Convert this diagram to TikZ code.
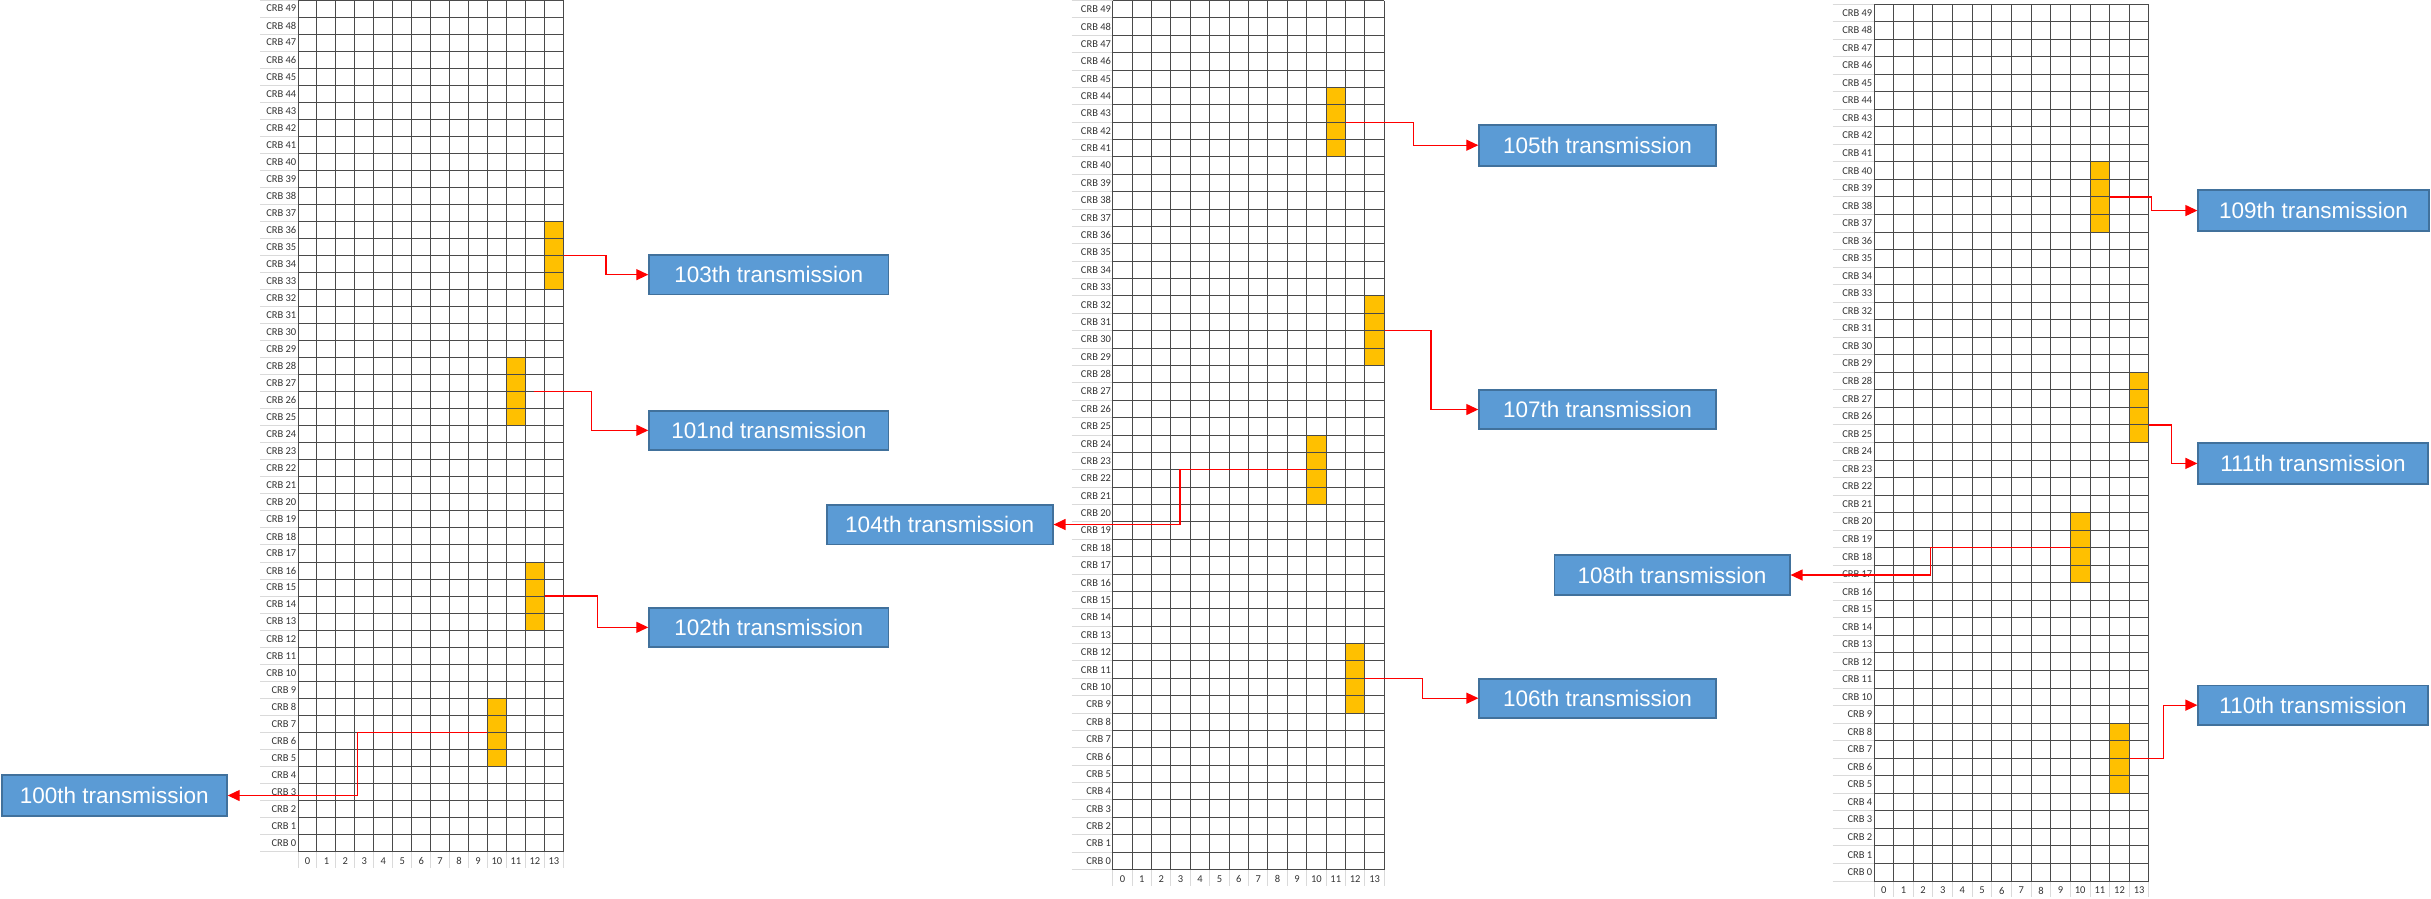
\documentclass[tikz,border=0pt]{standalone}
\usepackage{fontspec}
\setmainfont{Liberation Sans}
\newfontfamily\calfont{Carlito}
\usetikzlibrary{arrows.meta}
\definecolor{cellorange}{HTML}{FFC000}
\definecolor{boxfill}{HTML}{5B9BD5}
\definecolor{boxline}{HTML}{41719C}
\definecolor{gridcol}{HTML}{4A4A4A}
\definecolor{sepcol}{HTML}{DADADA}
\definecolor{conncol}{HTML}{FF0000}

% #1 left, #2 top, #3 col width, #4 row height, #5 label column left, #6 name prefix
\newcommand\mygrid[6]{%
  \pgfmathsetmacro\myGR{#1+14*#3}%
  \pgfmathsetmacro\myGB{#2+50*#4}%
  \foreach \r in {0,...,50} {\draw[sepline] (#5,#2+\r*#4) -- (#1,#2+\r*#4);}
  \foreach \c in {0,...,14} {\draw[sepline] (#1+\c*#3,\myGB) -- (#1+\c*#3,\myGB+16);}
  \foreach \r in {0,...,50} {\draw[gridline] (#1,#2+\r*#4) -- (\myGR,#2+\r*#4);}
  \foreach \c in {0,...,14} {\draw[gridline] (#1+\c*#3,#2) -- (#1+\c*#3,\myGB);}
  \foreach \r in {0,...,49} {\node[crblab] (#6r\r) at (#1-1.5,#2+49.5*#4-\r*#4) {CRB \r};}
  \foreach \c in {0,...,13} {\node[collab] (#6c\c) at (#1+\c*#3+0.5*#3,\myGB+9.5) {\c};}
}
% orange block of 4 rows: name, left, top, cw, rh, col, lowest row
\newcommand\ocell[7]{%
  \pgfmathsetmacro\myOx{#2+(#6+0.5)*#4}%
  \pgfmathsetmacro\myOy{#3+(48-#7)*#5}%
  \pgfmathsetmacro\myOh{4*#5}%
  \node[cellbox, minimum width=#4pt, minimum height=\myOh pt] (#1) at (\myOx,\myOy) {};
}
% text box: name, x1, x2, y1, y2, text
\newcommand\tbx[6]{%
  \pgfmathsetmacro\myBx{(#2+#3)/2}%
  \pgfmathsetmacro\myBy{(#4+#5)/2}%
  \pgfmathsetmacro\myBw{#3-#2-1.8}%
  \pgfmathsetmacro\myBh{#5-#4-1.8}%
  \node[tbox, minimum width=\myBw pt, minimum height=\myBh pt] (#1) at (\myBx,\myBy) {#6};
}

\begin{document}
\begin{tikzpicture}[x=1pt,y=-1pt,
  gridline/.style={draw=gridcol, line width=1pt},
  sepline/.style={draw=sepcol, line width=1pt},
  crblab/.style={font=\calfont\fontsize{10.5}{12}\selectfont, text=black!80, inner sep=0pt, anchor=east},
  collab/.style={font=\calfont\fontsize{10.5}{12}\selectfont, text=black!80, inner sep=0pt},
  cellbox/.style={fill=cellorange, draw=none, inner sep=0pt},
  tbox/.style={draw=boxline, line width=1.8pt, fill=boxfill, text=white, font=\fontsize{22.5}{27}\selectfont, inner sep=0pt},
  conn/.style={draw=conncol, line width=1.3pt, -{Triangle[length=12pt,width=11pt]}}
]
\useasboundingbox (0,0) rectangle (2431,898);

% orange blocks
\ocell{o100}{298}{0}{18.95}{17.03}{10}{5}
\ocell{o103}{298}{0}{18.95}{17.03}{13}{33}
\ocell{o101}{298}{0}{18.95}{17.03}{11}{25}
\ocell{o102}{298}{0}{18.95}{17.03}{12}{13}
\ocell{o105}{1112.7}{0.5}{19.4}{17.38}{11}{41}
\ocell{o107}{1112.7}{0.5}{19.4}{17.38}{13}{29}
\ocell{o104}{1112.7}{0.5}{19.4}{17.38}{10}{21}
\ocell{o106}{1112.7}{0.5}{19.4}{17.38}{12}{9}
\ocell{o109}{1874}{4}{19.64}{17.54}{11}{37}
\ocell{o111}{1874}{4}{19.64}{17.54}{13}{25}
\ocell{o108}{1874}{4}{19.64}{17.54}{10}{17}
\ocell{o110}{1874}{4}{19.64}{17.54}{12}{5}

% grids
\mygrid{298}{0}{18.95}{17.03}{260}{ga}
\mygrid{1112.7}{0.5}{19.4}{17.38}{1071.7}{gb}
\mygrid{1874}{4}{19.64}{17.54}{1832.7}{gc}

% boxes
\tbx{b100}{1}{227.7}{774.3}{816.7}{100th transmission}
\tbx{b103}{648.3}{889.3}{254}{295.3}{103th transmission}
\tbx{b101}{648.3}{889.3}{410}{450.7}{101nd transmission}
\tbx{b102}{648.3}{889.3}{606.7}{648}{102th transmission}
\tbx{b105}{1478.3}{1716.7}{123.7}{166.7}{105th transmission}
\tbx{b107}{1478.3}{1716.7}{389}{430}{107th transmission}
\tbx{b104}{825.7}{1053.6}{503.7}{545.3}{104th transmission}
\tbx{b106}{1478.4}{1716.7}{677.7}{718.7}{106th transmission}
\tbx{b109}{2197.4}{2429.8}{189.3}{231.8}{109th transmission}
\tbx{b111}{2197.4}{2428.6}{441.8}{485}{111th transmission}
\tbx{b108}{1553.6}{1790.6}{554}{596}{108th transmission}
\tbx{b110}{2197.4}{2428.6}{684.5}{725.8}{110th transmission}

% bend x positions
\coordinate (k100) at (357.3,0);
\coordinate (k103) at (606,0);
\coordinate (k101) at (591.7,0);
\coordinate (k102) at (597.3,0);
\coordinate (k105) at (1413.3,0);
\coordinate (k107) at (1431,0);
\coordinate (k104) at (1180,0);
\coordinate (k106) at (1422.8,0);
\coordinate (k109) at (2151.4,0);
\coordinate (k111) at (2171.8,0);
\coordinate (k108) at (1930.3,0);
\coordinate (k110) at (2163.3,0);
\coordinate (s101) at ([xshift=8pt]o101.east);
\coordinate (s111) at ([yshift=-17.54pt]o111.east);

% connectors
\draw[conn] (o100.west) -| (k100 |- b100.east) -- (b100.east);
\draw[conn] (o103.east) -| (k103 |- b103.west) -- (b103.west);
\draw[conn] (s101) -| (k101 |- b101.west) -- (b101.west);
\draw[conn] (o102.east) -| (k102 |- b102.west) -- (b102.west);
\draw[conn] (o105.east) -| (k105 |- b105.west) -- (b105.west);
\draw[conn] (o107.east) -| (k107 |- b107.west) -- (b107.west);
\draw[conn] (o104.west) -| (k104 |- b104.east) -- (b104.east);
\draw[conn] (o106.east) -| (k106 |- b106.west) -- (b106.west);
\draw[conn] (o109.east) -| (k109 |- b109.west) -- (b109.west);
\draw[conn] (s111) -| (k111 |- b111.west) -- (b111.west);
\draw[conn] (o108.west) -| (k108 |- b108.east) -- (b108.east);
\draw[conn] (o110.east) -| (k110 |- b110.west) -- (b110.west);
\end{tikzpicture}
\end{document}
